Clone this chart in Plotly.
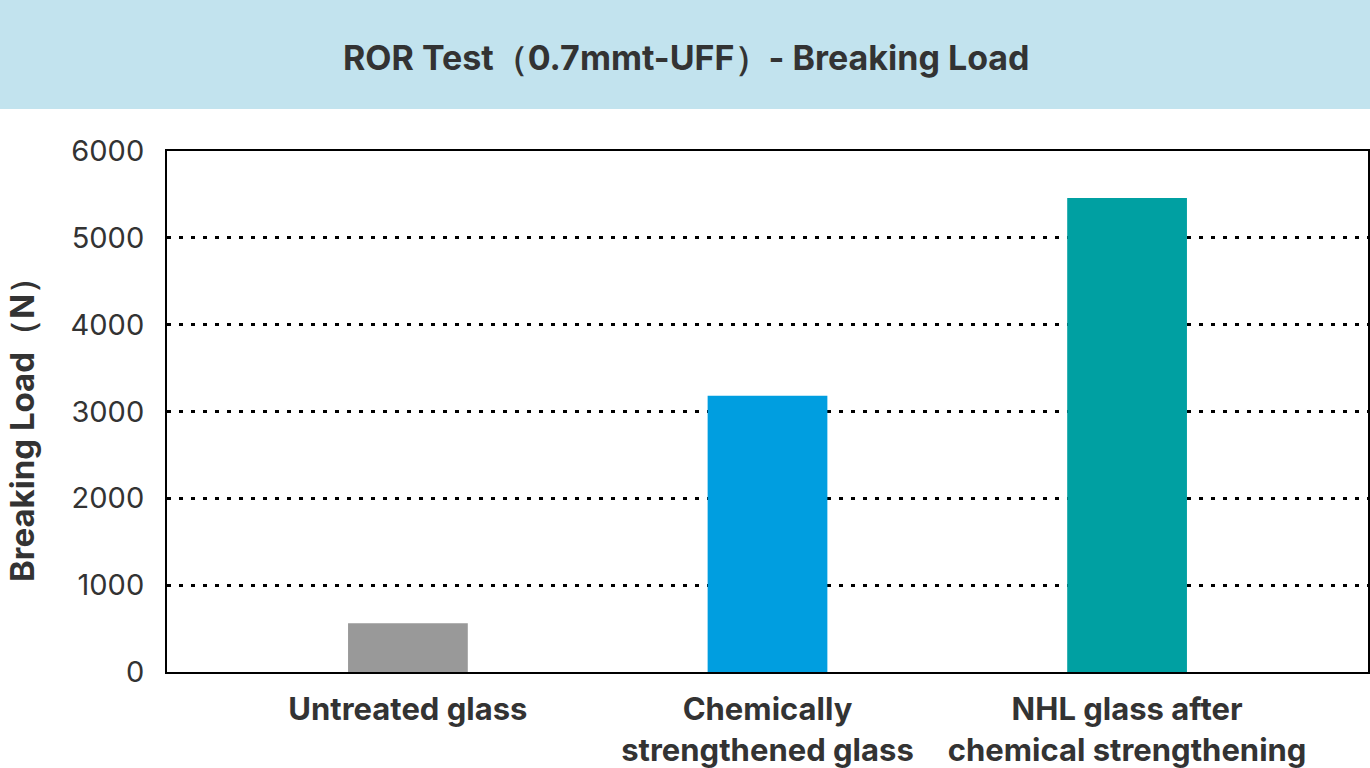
import plotly.graph_objects as go

categories = ["Untreated glass", "Chemically<br>strengthened glass", "NHL glass after<br>chemical strengthening"]
values = [560, 3180, 5460]
colors = ["#999999", "#009ee0", "#00a0a2"]
y_ticks = [0, 1000, 2000, 3000, 4000, 5000, 6000]

W, H = 1370, 768
ML, MR, MT, MB = 167, 2, 151, 96
PW = W - ML - MR
PH = H - MT - MB
FONT = "Inter, Liberation Sans, Arial, sans-serif"
TXT = "#333333"

fig = go.Figure(go.Bar(x=categories, y=values, marker=dict(color=colors, line=dict(width=0)), width=0.333))

fig.update_layout(
    width=W, height=H,
    margin=dict(l=ML, r=MR, t=MT, b=MB),
    paper_bgcolor="white", plot_bgcolor="white",
    showlegend=False,
    font=dict(family=FONT, color=TXT),
)
fig.update_xaxes(
    range=[-0.67, 2.67], showline=True, mirror=True, linecolor="black", linewidth=2,
    showgrid=False, ticks="", tickfont=dict(size=31, family=FONT, color=TXT, weight="bold"),
    ticklabelstandoff=9, automargin=False,
)
fig.update_yaxes(
    range=[0, 6000], tickvals=y_ticks, showline=True, mirror=True, linecolor="black", linewidth=2,
    showgrid=True, gridcolor="black", gridwidth=3, griddash="4px,8px", zeroline=False,
    ticks="", tickfont=dict(size=29, family=FONT, color=TXT), ticklabelstandoff=15, automargin=False,
)

# banner
fig.add_shape(type="rect", xref="paper", yref="paper",
              x0=-ML / PW - 0.01, x1=1 + MR / PW + 0.01, y0=(H - MB - 109) / PH, y1=(H - MB) / PH + 0.02,
              fillcolor="#c2e3ee", line=dict(width=0), layer="below")
fig.add_annotation(text="<b>ROR Test（0.7mmt-UFF）- Breaking Load</b>", xref="paper", yref="paper",
                   x=(686 - ML) / PW, y=(H - MB - 57) / PH, xanchor="center", yanchor="middle",
                   showarrow=False, font=dict(size=34, family=FONT, color=TXT))
fig.add_annotation(text="<b>Breaking Load（N）</b>", xref="paper", yref="paper",
                   x=(22 - ML) / PW, y=(H - MB - 422) / PH, xanchor="center", yanchor="middle",
                   textangle=-90, showarrow=False, font=dict(size=33, family=FONT, color=TXT))

fig.write_html("out.html", config={"displayModeBar": False},
               post_script="document.body.style.margin='0';document.body.style.overflow='hidden';")
